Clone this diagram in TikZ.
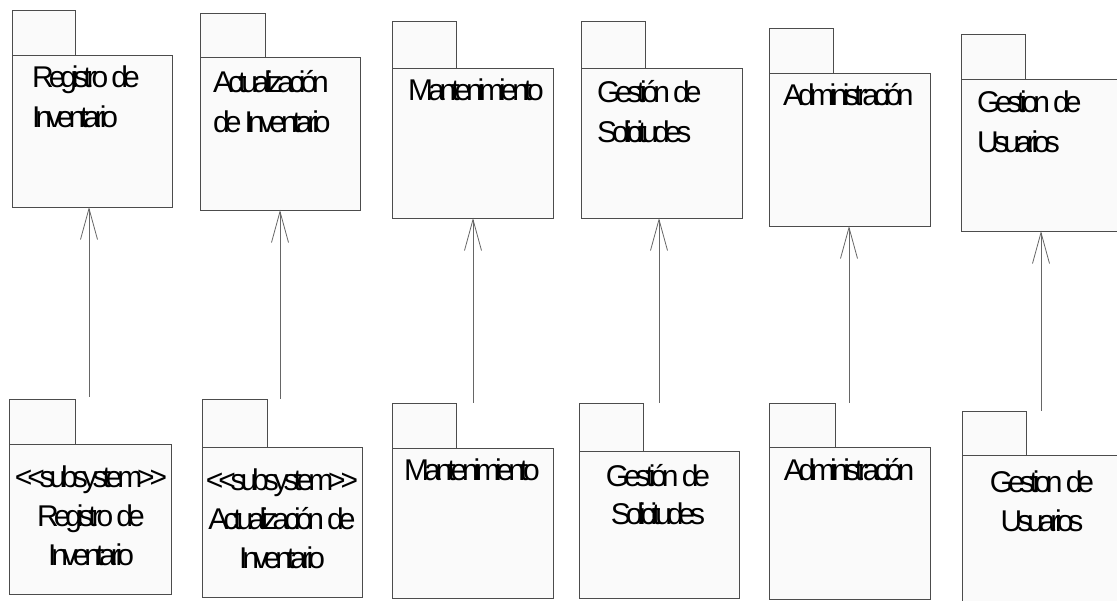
\documentclass[tikz,border=0pt]{standalone}
\usepackage{fontspec}
\newfontfamily\umlfont[LetterSpace=-17]{Liberation Sans}
\usetikzlibrary{arrows.meta}
\begin{document}
\begin{tikzpicture}[x=1pt,y=-1pt,
  pkg/.style={draw=black!70, fill=black!2, line width=0.8pt, inner sep=0pt, outer sep=0pt, anchor=north west},
  dep/.style={draw=black!60, line width=0.8pt, -{Straight Barb[length=31pt,width=17pt]}},
  lbl/.style={font=\umlfont\fontsize{30}{40}\selectfont, inner sep=0pt, align=left, anchor=base west},
  clbl/.style={font=\umlfont\fontsize{30}{39}\selectfont, inner sep=0pt, align=center, anchor=base}]
\useasboundingbox (0,0) rectangle (1117,601);
\clip (0,0) rectangle (1117,601);
% top packages
\node[pkg, minimum width=63pt, minimum height=45pt] (t1) at (12,10) {};
\node[pkg, minimum width=160pt, minimum height=152pt] (b1) at (12,55) {};
\node[pkg, minimum width=65pt, minimum height=44pt] (t2) at (200,13) {};
\node[pkg, minimum width=160pt, minimum height=153pt] (b2) at (200,57) {};
\node[pkg, minimum width=64pt, minimum height=47pt] (t3) at (392,21) {};
\node[pkg, minimum width=161pt, minimum height=150pt] (b3) at (392,68) {};
\node[pkg, minimum width=64pt, minimum height=47pt] (t4) at (581,21) {};
\node[pkg, minimum width=161pt, minimum height=150pt] (b4) at (581,68) {};
\node[pkg, minimum width=64pt, minimum height=45pt] (t5) at (769,28) {};
\node[pkg, minimum width=161pt, minimum height=153pt] (b5) at (769,73) {};
\node[pkg, minimum width=64pt, minimum height=45pt] (t6) at (961,34) {};
\node[pkg, minimum width=160pt, minimum height=152pt] (b6) at (961,79) {};
% bottom packages
\node[pkg, minimum width=66pt, minimum height=45pt] (t1b) at (9,399) {};
\node[pkg, minimum width=162pt, minimum height=150pt] (b1b) at (9,444) {};
\node[pkg, minimum width=65pt, minimum height=48pt] (t2b) at (202,399) {};
\node[pkg, minimum width=160pt, minimum height=150pt] (b2b) at (202,447) {};
\node[pkg, minimum width=64pt, minimum height=45pt] (t3b) at (392,403) {};
\node[pkg, minimum width=161pt, minimum height=150pt] (b3b) at (392,448) {};
\node[pkg, minimum width=64pt, minimum height=48pt] (t4b) at (579,403) {};
\node[pkg, minimum width=160pt, minimum height=147pt] (b4b) at (579,451) {};
\node[pkg, minimum width=66pt, minimum height=44pt] (t5b) at (769,403) {};
\node[pkg, minimum width=161pt, minimum height=152pt] (b5b) at (769,447) {};
\node[pkg, minimum width=64pt, minimum height=44pt] (t6b) at (962,411) {};
\node[pkg, minimum width=160pt, minimum height=152pt] (b6b) at (962,455) {};
% labels top (anchor = baseline of last line)
\node[lbl] (l1) at (32,128) {Registro de\\Inventario};
\node[lbl] (l2) at (213,133) {Actualización\\de Inventario};
\node[lbl] (l3) at (408,101) {Mantenimiento};
\node[lbl] (l4) at (597,143) {Gestión de\\Solicitudes};
\node[lbl] (l5) at (783,106) {Administración};
\node[lbl] (l6) at (977,153) {Gestion de\\Usuarios};
% labels bottom
\node[clbl] (l1b) at (91,565) {<<subsystem>>\\Registro de\\Inventario};
\node[clbl] (l2b) at (282,568) {<<subsystem>>\\Actualización de\\Inventario};
\node[clbl] (l3b) at (472,481) {Mantenimiento};
\node[clbl] (l4b) at (658,525) {Gestión de\\Solicitudes};
\node[clbl] (l5b) at (849,481) {Administración};
\node[clbl] (l6b) at (1042,531) {Gestion de\\Usuarios};
% dependencies
\coordinate (a1) at (89,397);
\coordinate (a2) at (280,399);
\coordinate (a3) at (473,403);
\coordinate (a4) at (659,403);
\coordinate (a5) at (849,403);
\coordinate (a6) at (1041,411);
\draw[dep] (a1) -- (a1 |- b1.south);
\draw[dep] (a2) -- (a2 |- b2.south);
\draw[dep] (a3) -- (a3 |- b3.south);
\draw[dep] (a4) -- (a4 |- b4.south);
\draw[dep] (a5) -- (a5 |- b5.south);
\draw[dep] (a6) -- (a6 |- b6.south);
\end{tikzpicture}
\end{document}
